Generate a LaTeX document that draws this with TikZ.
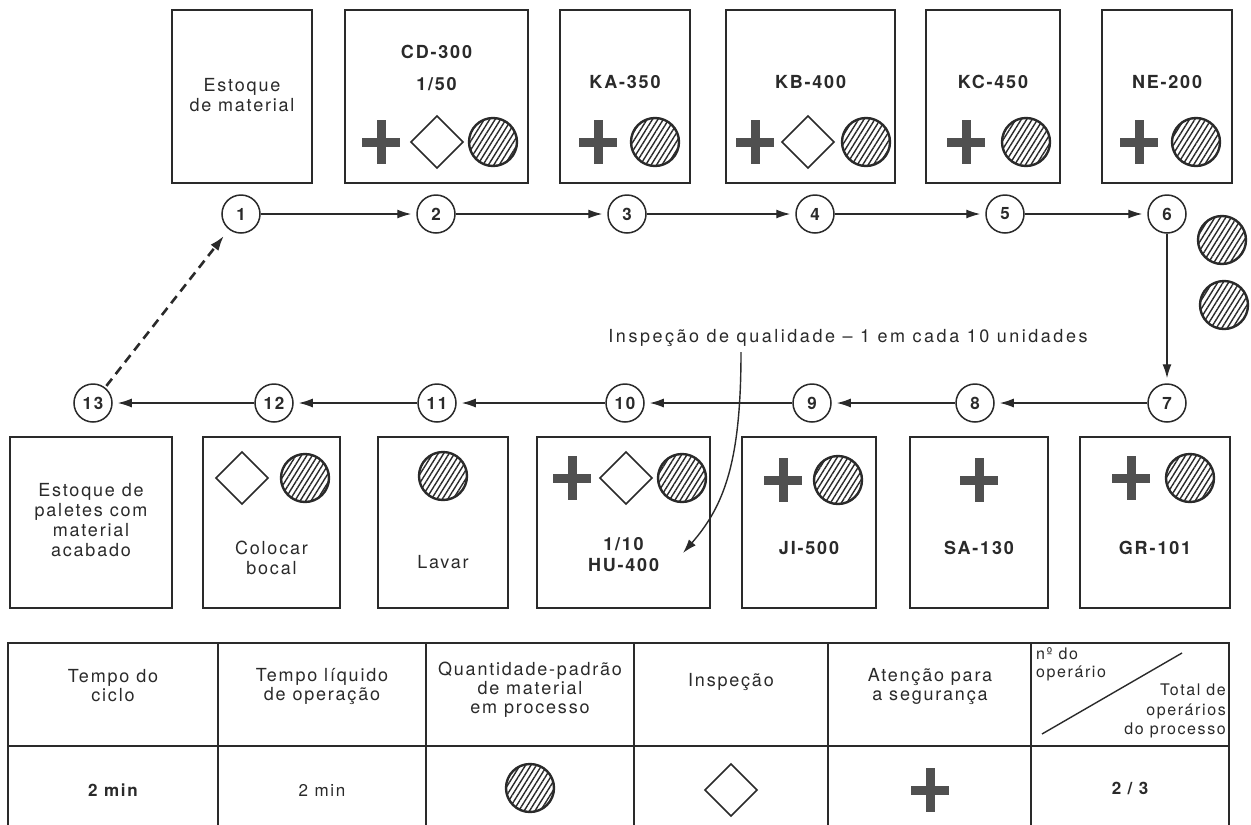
\documentclass[tikz,border=0pt]{standalone}
\usepackage{fontspec}
\setmainfont{TeX Gyre Heros}[LetterSpace=10]
\newfontfamily\notefont{TeX Gyre Heros}[LetterSpace=14]
\usetikzlibrary{arrows.meta,patterns.meta}
\definecolor{ink}{HTML}{2A2A2A}
\definecolor{crossc}{HTML}{505050}
\begin{document}
\begin{tikzpicture}[x=1pt,y=-1pt,
 box/.style={draw=ink,line width=1.8pt,inner sep=0pt},
 num/.style={circle,draw=ink,line width=1.5pt,minimum size=38pt,inner sep=0pt,text=ink,font=\fontsize{17}{17}\selectfont\bfseries},
 lbl/.style={font=\fontsize{18}{20}\selectfont,align=center,text=ink,inner sep=0pt},
 code/.style={font=\fontsize{18}{21}\selectfont\bfseries,align=center,text=ink,inner sep=0pt},
 tlbl/.style={font=\fontsize{18}{19}\selectfont,align=center,text=ink,inner sep=0pt},
 flow/.style={draw=ink,line width=1.4pt,-{Latex[length=14pt,width=9pt]},shorten >=5pt},
 tline/.style={draw=ink,line width=1.6pt},
 pics/safecross/.style={code={\fill[crossc] (-19,-4.5) rectangle (19,4.5); \fill[crossc] (-4.5,-22) rectangle (4.5,22);}},
 pics/insp/.style={code={\draw[ink,line width=1.6pt] (0,-26)--(26,0)--(0,26)--(-26,0)--cycle;}},
 pics/wip/.style={code={\draw[ink,line width=2.4pt,pattern={Lines[angle=58,distance=4.6pt,line width=1.4pt]},pattern color=ink] (0,0) circle (24);}},
]
\useasboundingbox (0,0) rectangle (1251,825);
\fill[white] (0,0) rectangle (1251,825);

% ---- top boxes
\node[box,minimum width=140,minimum height=173] (b1) at (242,96.5) {};
\node[box,minimum width=183,minimum height=173] (b2) at (436.5,96.5) {};
\node[box,minimum width=130,minimum height=173] (b3) at (625,96.5) {};
\node[box,minimum width=169,minimum height=173] (b4) at (810.5,96.5) {};
\node[box,minimum width=134,minimum height=173] (b5) at (993,96.5) {};
\node[box,minimum width=130,minimum height=173] (b6) at (1167,96.5) {};

\node[lbl] (t1) at (242,95) {Estoque\\de material};
\node[code] (t2a) at (436.5,52) {CD-300};
\node[code] (t2b) at (436.5,84) {1/50};
\node[code] (t3) at (625,82) {KA-350};
\node[code] (t4) at (810.5,82) {KB-400};
\node[code] (t5) at (993,82) {KC-450};
\node[code] (t6) at (1167,82) {NE-200};

\pic at (381,142) {safecross};
\pic at (437,142) {insp};
\pic at (493,142) {wip};
\pic at (598,142) {safecross};
\pic at (655,142) {wip};
\pic at (755,142) {safecross};
\pic at (808,142) {insp};
\pic at (866,142) {wip};
\pic at (966,142) {safecross};
\pic at (1026,142) {wip};
\pic at (1139,142) {safecross};
\pic at (1196,142) {wip};

% ---- process circles
\node[num] (c1) at (241,214) {1};
\node[num] (c2) at (436,214) {2};
\node[num] (c3) at (627,214) {3};
\node[num] (c4) at (815,214) {4};
\node[num] (c5) at (1005,214) {5};
\node[num] (c6) at (1167,214) {6};
\node[num] (c7) at (1167,403) {7};
\node[num] (c8) at (975,403) {8};
\node[num] (c9) at (812,403) {9};
\node[num] (c10) at (625,403) {10};
\node[num] (c11) at (437,403) {11};
\node[num] (c12) at (274,403) {12};
\node[num] (c13) at (93,403) {13};

\pic at (1222,240) {wip};
\pic at (1224,305) {wip};

\draw[flow] (c1) -- (c2);
\draw[flow] (c2) -- (c3);
\draw[flow] (c3) -- (c4);
\draw[flow] (c4) -- (c5);
\draw[flow] (c5) -- (c6);
\draw[flow] (c6) -- (c7);
\draw[flow] (c7) -- (c8);
\draw[flow] (c8) -- (c9);
\draw[flow] (c9) -- (c10);
\draw[flow] (c10) -- (c11);
\draw[flow] (c11) -- (c12);
\draw[flow] (c12) -- (c13);
\draw[draw=ink,line width=2.6pt,dash pattern=on 9pt off 6pt,-{Latex[length=15pt,width=10pt]},shorten >=8pt,shorten <=2pt] (c13) -- (c1);

% ---- bottom boxes
\node[box,minimum width=162,minimum height=171] (b13) at (91,522.5) {};
\node[box,minimum width=137,minimum height=171] (b12) at (271.5,522.5) {};
\node[box,minimum width=130,minimum height=171] (b11) at (443,522.5) {};
\node[box,minimum width=173,minimum height=171] (b10) at (623.5,522.5) {};
\node[box,minimum width=134,minimum height=171] (b9) at (809,522.5) {};
\node[box,minimum width=138,minimum height=171] (b8) at (979,522.5) {};
\node[box,minimum width=150,minimum height=171] (b7) at (1155,522.5) {};

\node[lbl] (t13) at (91,520) {Estoque de\\paletes com\\material\\acabado};
\pic at (242,478) {insp};
\pic at (305,478) {wip};
\node[lbl] (t12) at (271.5,558) {Colocar\\bocal};
\pic at (443,476) {wip};
\node[lbl] (t11) at (443,562) {Lavar};
\pic at (572,478) {safecross};
\pic at (626,478) {insp};
\pic at (682,478) {wip};
\node[code] (t10) at (623.5,555) {1/10\\HU-400};
\pic at (783,480) {safecross};
\pic at (838,480) {wip};
\node[code] (t9) at (809,548) {JI-500};
\pic at (979,480) {safecross};
\node[code] (t8) at (979,548) {SA-130};
\pic at (1131,478) {safecross};
\pic at (1190,478) {wip};
\node[code] (t7) at (1155,548) {GR-101};

% ---- quality inspection note
\node[text=ink,inner sep=0pt,font=\notefont\fontsize{18}{20}\selectfont] (note) at (848,338) {Inspeção de qualidade – 1 em cada 10 unidades};
\coordinate (qs) at (741,352);
\coordinate (qe) at (683,553);
\draw[draw=ink,line width=1.4pt,-{Latex[length=14pt,width=9pt]}] (qs) .. controls (741,460) and (725,505) .. (qe);

% ---- table
\draw[tline] (8,825) -- (8,643) -- (1229,643) -- (1229,825);
\draw[tline] (8,746) -- (1229,746);
\foreach \xx in {218,426,634,828,1031} \draw[tline] (\xx,643) -- (\xx,825);

\node[tlbl] (h1) at (113,686) {Tempo do\\ciclo};
\node[tlbl] (h2) at (322,686) {Tempo líquido\\de operação};
\node[tlbl] (h3) at (530,690) {Quantidade-padrão\\de material\\em processo};
\node[tlbl] (h4) at (731,682) {Inspeção};
\node[tlbl] (h5) at (930,686) {Atenção para\\a segurança};
\node[tlbl,anchor=north west,align=left,font=\fontsize{16}{18}\selectfont] (h6a) at (1036,647) {nº do\\operário};
\node[tlbl,anchor=north east,align=right,font=\fontsize{16}{19.5}\selectfont] (h6b) at (1226,684) {Total de\\operários\\do processo};
\draw[draw=ink,line width=1.4pt] (1042,734) -- (1182,653);

\node[tlbl,font=\fontsize{17}{18}\selectfont\bfseries] (v1) at (113,790) {2 min};
\node[tlbl,font=\fontsize{17}{18}\selectfont] (v2) at (322,790) {2 min};
\pic at (530,788) {wip};
\pic at (731,790) {insp};
\pic at (930,790) {safecross};
\node[tlbl,font=\fontsize{17}{18}\selectfont\bfseries] (v6) at (1130,788) {2 / 3};
\end{tikzpicture}
\end{document}
